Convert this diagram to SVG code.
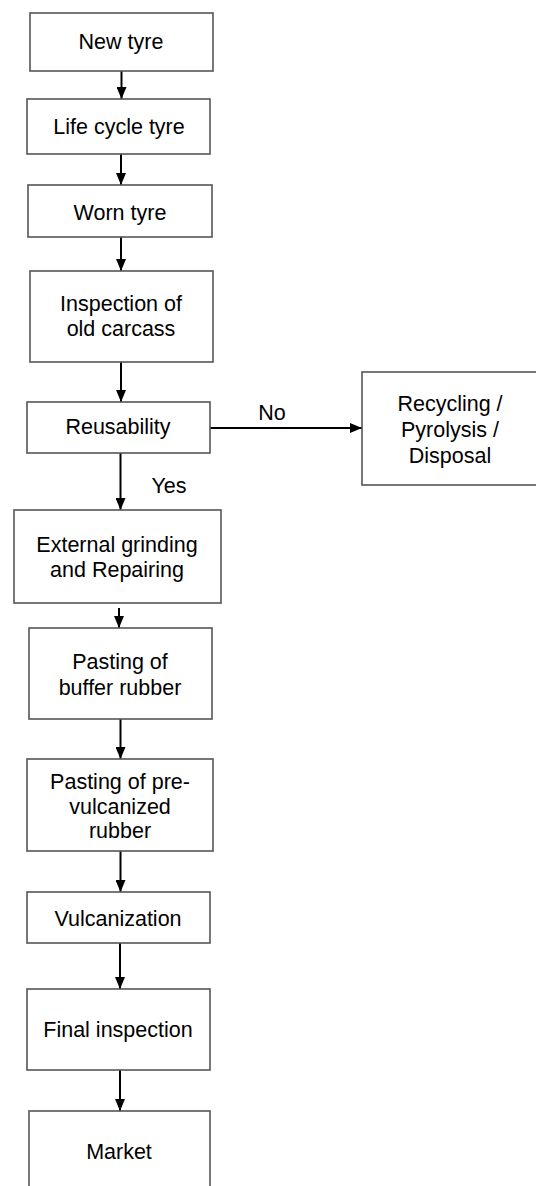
<svg xmlns="http://www.w3.org/2000/svg" width="536" height="1186" viewBox="0 0 536 1186">
<style>
.box{fill:#fff;stroke:#555;stroke-width:1.6}
.t{font-family:"Liberation Sans",Arial,sans-serif;font-size:21.5px;fill:#000;text-anchor:middle}
.c{stroke:#000;stroke-width:2;fill:none}
</style>
<defs>
<marker id="ah" viewBox="0 0 12 10" refX="12" refY="5" markerWidth="12" markerHeight="10" markerUnits="userSpaceOnUse" orient="auto">
<path d="M0,0 L12,5 L0,10 z" fill="#000"/>
</marker>
</defs>
<rect x="0" y="0" width="536" height="1186" fill="#fff"/>
<g id="connectors">
<line class="c" x1="121.5" y1="71" x2="121.5" y2="99" marker-end="url(#ah)"/>
<line class="c" x1="121" y1="154" x2="121" y2="185" marker-end="url(#ah)"/>
<line class="c" x1="121" y1="237" x2="121" y2="271" marker-end="url(#ah)"/>
<line class="c" x1="121" y1="362" x2="121" y2="402" marker-end="url(#ah)"/>
<line class="c" x1="210" y1="428" x2="362" y2="428" marker-end="url(#ah)"/>
<line class="c" x1="120.5" y1="453" x2="120.5" y2="510" marker-end="url(#ah)"/>
<line class="c" x1="119" y1="608" x2="119" y2="628" marker-end="url(#ah)"/>
<line class="c" x1="120.5" y1="719" x2="120.5" y2="759" marker-end="url(#ah)"/>
<line class="c" x1="120.5" y1="851" x2="120.5" y2="892" marker-end="url(#ah)"/>
<line class="c" x1="120" y1="943" x2="120" y2="989" marker-end="url(#ah)"/>
<line class="c" x1="120" y1="1070" x2="120" y2="1111" marker-end="url(#ah)"/>
<text class="t" x="272" y="420">No</text>
<text class="t" x="169" y="493">Yes</text>
</g>
<g id="n1"><rect class="box" x="30" y="13" width="183" height="58"/><text class="t" x="121" y="49">New tyre</text></g>
<g id="n2"><rect class="box" x="27" y="99" width="183" height="55"/><text class="t" x="119" y="134">Life cycle tyre</text></g>
<g id="n3"><rect class="box" x="28" y="185" width="184" height="52"/><text class="t" x="120" y="219.5">Worn tyre</text></g>
<g id="n4"><rect class="box" x="30" y="271" width="183" height="91"/><text class="t" x="121" y="311">Inspection of</text><text class="t" x="121" y="336">old carcass</text></g>
<g id="n5"><rect class="box" x="27" y="402" width="183" height="51"/><text class="t" x="118" y="434">Reusability</text></g>
<g id="n6"><rect class="box" x="362" y="372" width="180" height="113"/><text class="t" x="450" y="410.5">Recycling /</text><text class="t" x="450" y="437">Pyrolysis /</text><text class="t" x="450" y="462.5">Disposal</text></g>
<g id="n7"><rect class="box" x="14" y="510" width="207" height="93"/><text class="t" x="117" y="552">External grinding</text><text class="t" x="117" y="577">and Repairing</text></g>
<g id="n8"><rect class="box" x="29" y="628" width="183" height="91"/><text class="t" x="120" y="669">Pasting of</text><text class="t" x="120" y="695">buffer rubber</text></g>
<g id="n9"><rect class="box" x="27" y="759" width="186" height="92"/><text class="t" x="120" y="789">Pasting of pre-</text><text class="t" x="120" y="813.5">vulcanized</text><text class="t" x="120" y="837.5">rubber</text></g>
<g id="n10"><rect class="box" x="27" y="892" width="183" height="51"/><text class="t" x="118" y="925.5">Vulcanization</text></g>
<g id="n11"><rect class="box" x="27" y="989" width="183" height="81"/><text class="t" x="118" y="1036.5">Final inspection</text></g>
<g id="n12"><rect class="box" x="29" y="1111" width="181" height="80"/><text class="t" x="119" y="1159">Market</text></g>
</svg>
